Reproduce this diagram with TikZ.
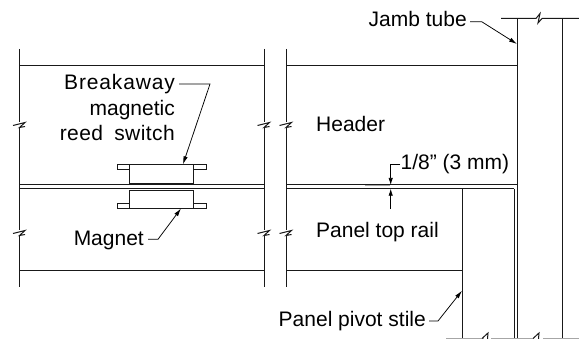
\documentclass[tikz,border=0pt]{standalone}
\usepackage{fontspec}
\setmainfont{Liberation Sans}
\usetikzlibrary{arrows.meta}
\tikzset{
  x=1pt,y=-1pt,
  ln/.style={draw=black!90,line width=1pt},
  lead/.style={draw=black,line width=0.75pt,-{Latex[length=8pt,width=4.4pt]}},
  dimtip/.style={draw=black,line width=0.75pt,-{Latex[length=7pt,width=4.4pt]}},
  lbl/.style={font=\fontsize{21pt}{25pt}\selectfont,inner sep=0pt,text=black},
}
\begin{document}
\begin{tikzpicture}
\useasboundingbox (0,0) rectangle (579,339);
% left panel verticals with breaks
\foreach \xx in {19.5,264,286}{
  \draw[ln] (\xx,49) -- (\xx,122.5) (\xx,127) -- (\xx,230.5) (\xx,235) -- (\xx,287);
  \draw[ln] (\xx-6.5,125.5) -- (\xx+5.5,122.5) -- (\xx+.0,127.5) -- (\xx+5.5,126.5);
  \draw[ln] (\xx-6.5,233.5) -- (\xx+5.5,230.5) -- (\xx+.0,235.5) -- (\xx+5.5,234.5);
}
% horizontals
\draw[draw=black!35,line width=0.5pt] (365,185) -- (390,185) (365,188.7) -- (390,188.7);
\draw[ln] (19.5,66) -- (264,66);
\draw[ln] (286,66) -- (517,66);
\draw[ln] (19.5,185) -- (264,185);
\draw[ln] (19.5,188.7) -- (264,188.7);
\draw[ln] (286,185) -- (517,185);
\draw[ln] (286,188.7) -- (514,188.7);
\draw[ln] (19.5,270.7) -- (264,270.7);
\draw[ln] (286,270.7) -- (462,270.7);
% jamb tube
\draw[ln] (501,18.5) -- (536,18.5) -- (540,13.5) -- (538,23) -- (542,18.5) -- (579,18.5);
\draw[ln] (517,18.5) -- (517,339);
\draw[ln] (562.7,18.5) -- (562.7,339);
% stile
\draw[ln] (462,188.7) -- (462,339);
\draw[ln] (514,188.7) -- (514,339);
% bottom break
\draw[draw=black!35,line width=0.5pt] (446,338.5) -- (484,338.5);
\draw[ln] (482,338.5) -- (488,333) -- (487.5,339);
\draw[draw=black!35,line width=0.5pt] (491,338.5) -- (534,338.5);
\draw[ln] (533,338.5) -- (539,333) -- (538.5,339);
\draw[draw=black!35,line width=0.5pt] (543,338.5) -- (579,338.5);
% switch
\node[ln,fill=white,inner sep=0pt,outer sep=0pt,minimum width=64.4pt,minimum height=19pt,anchor=north west] (sw) at (129.3,164.3) {};
\node[ln,inner sep=0pt,outer sep=0pt,minimum width=12pt,minimum height=5.6pt,anchor=north east] (swl) at (129.3,164.3) {};
\node[ln,inner sep=0pt,outer sep=0pt,minimum width=12.3pt,minimum height=5.6pt,anchor=north west] (swr) at (193.7,164.3) {};
% magnet
\node[ln,fill=white,inner sep=0pt,outer sep=0pt,minimum width=64.4pt,minimum height=18.7pt,anchor=north west] (mg) at (129.3,190.3) {};
\node[ln,inner sep=0pt,outer sep=0pt,minimum width=12pt,minimum height=5pt,anchor=south east] (mgl) at (129.3,209) {};
\node[ln,inner sep=0pt,outer sep=0pt,minimum width=12.3pt,minimum height=5pt,anchor=south west] (mgr) at (193.7,209) {};
% labels
\node[lbl,anchor=base east] (brk) at (175,90) {\addfontfeature{LetterSpace=4}Breakaway};
\node[lbl,anchor=base east] (mgt) at (175,115.5) {magnetic};
\node[lbl,anchor=base east] (red) at (175,141) {\addfontfeature{LetterSpace=2}reed\hspace{5pt} switch};
\node[lbl,anchor=base west] (hdr) at (316,131.5) {Header};
\node[lbl,anchor=base west] (ptr) at (316,238) {Panel top rail};
\node[lbl,anchor=base east] (mag) at (144,246) {Magnet};
\node[lbl,anchor=base east] (jmb) at (467,26.7) {Jamb tube};
\node[lbl,anchor=base east] (pps) at (426,327) {Panel pivot stile};
\node[lbl,anchor=base west] (dim) at (400.5,170) {1/8” (3 mm)};
% leaders
\coordinate (a1) at (183,164.3);
\coordinate (a2) at (181,208.5);
\coordinate (a3) at (517,44);
\coordinate (a4) at (462,290.7);
\draw[lead] (brk.east|-0,84) ++(4,0) -- (210,84) -- (a1);
\draw[lead] (mag.east|-0,239.3) ++(4,0) -- (158,239.3) -- (a2);
\draw[lead] (jmb.east|-0,21.7) ++(3,0) -- (481.7,21.7) -- (a3);
\draw[lead] (pps.east|-0,321) ++(3,0) -- (438,321) -- (a4);
% dimension
\coordinate (d1) at (390.7,185);
\coordinate (d2) at (390.7,188.7);
\draw[dimtip] (400,164.3) -- (390.7,164.3) -- (d1);
\draw[dimtip] (390.7,209) -- (d2);
\end{tikzpicture}
\end{document}
